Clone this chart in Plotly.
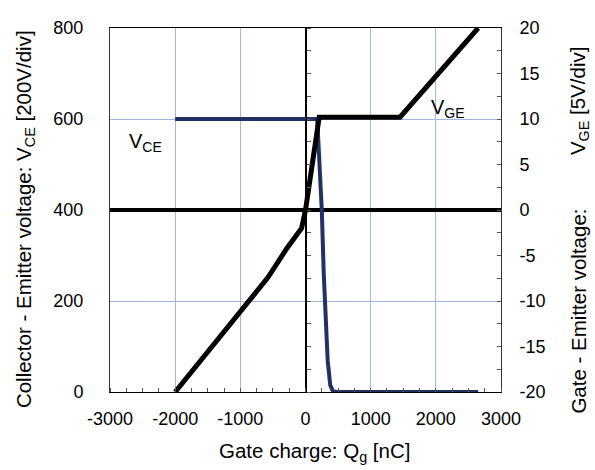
import plotly.graph_objects as go

# Data
vce_q = [-2000, 0, 180, 215, 250, 280, 300, 340, 380, 420, 480, 2650]
vce_v = [600, 600, 600, 500, 400, 260, 180, 70, 15, 2, 0, 0]

vge_q = [-2000, -1000, -575, -285, -150, -60, 0, 70, 150, 210, 1450, 2650]
vge_v = [-20, -11.2, -7.4, -4.2, -3.0, -2.0, 0, 3.3, 7.3, 10.2, 10.2, 20]

x_ticks = [-3000, -2000, -1000, 0, 1000, 2000, 3000]
x_labels = ["-3000", "-2000", "-1000", "0", "1000", "2000", "3000"]
y1_ticks = [0, 200, 400, 600, 800]
y2_ticks = [-20, -15, -10, -5, 0, 5, 10, 15, 20]
y2_labels = ["-20", "-15", "-10", "-5", "0", "5", "10", "15", "20"]

FONT = "Liberation Sans, Arial, sans-serif"
GRID = "#a3b6de"
NAVY = "#1f3263"
TICK = 18
TITLE = 20.5

fig = go.Figure()
fig.add_trace(go.Scatter(x=vce_q, y=vce_v, mode="lines",
                         line=dict(color=NAVY, width=4), yaxis="y", showlegend=False))
fig.add_trace(go.Scatter(x=vge_q, y=vge_v, mode="lines",
                         line=dict(color="black", width=5), yaxis="y2", showlegend=False))
# invisible trace to activate y3 (tick line at Q=0)
fig.add_trace(go.Scatter(x=[0], y=[0], mode="markers", marker=dict(opacity=0),
                         yaxis="y3", showlegend=False, hoverinfo="skip"))

fig.update_layout(
    width=595, height=470,
    margin=dict(l=110, r=94, t=28, b=78),
    paper_bgcolor="white", plot_bgcolor="white",
    font=dict(family=FONT, size=TICK, color="black"),
    xaxis=dict(range=[-3000, 3000], tickvals=x_ticks, ticktext=x_labels, showgrid=True,
               gridcolor=GRID, gridwidth=1, zeroline=True, zerolinecolor="black",
               zerolinewidth=1, showline=True, linecolor="black", linewidth=1, mirror=True,
               ticks="", ticklabelstandoff=10, tickfont=dict(size=TICK), automargin=False,
               minor=dict(dtick=250, ticks="inside", ticklen=4, tickcolor="#555", showgrid=False)),
    yaxis=dict(range=[0, 800], tickvals=y1_ticks, showgrid=True, gridcolor=GRID,
               zeroline=False, showline=True, linecolor="#333", linewidth=1,
               ticks="", ticklabelstandoff=22, tickfont=dict(size=TICK), automargin=False),
    yaxis2=dict(range=[-20, 20], tickvals=y2_ticks, ticktext=y2_labels, overlaying="y",
                side="right", anchor="x", showgrid=False, zeroline=True,
                zerolinecolor="black", zerolinewidth=4, showline=True, linecolor="#333",
                linewidth=1, ticks="inside", ticklen=4, tickcolor="#555",
                ticklabelstandoff=14, tickfont=dict(size=TICK), automargin=False,
                minor=dict(dtick=2.5, ticks="inside", ticklen=4, tickcolor="#555")),
    yaxis3=dict(range=[-20, 20], overlaying="y", side="right", anchor="free",
                position=0.5, showgrid=False, zeroline=False, showline=True,
                linecolor="black", linewidth=1, ticks="outside", ticklen=4,
                tickcolor="#555", dtick=2.5, showticklabels=False, automargin=False),
)

fig.add_annotation(text="V<sub>CE</sub>", x=-2740, y=548, xref="x", yref="y",
                   xanchor="left", yanchor="middle", showarrow=False, font=dict(size=20))
fig.add_annotation(text="V<sub>GE</sub>", x=1890, y=11.2, xref="x", yref="y2",
                   xanchor="left", yanchor="middle", showarrow=False, font=dict(size=20))
# axis titles
fig.add_annotation(text="Gate charge: Q<sub>g</sub> [nC]", x=0.5, xshift=9, y=0, yshift=-60,
                   xref="paper", yref="paper", xanchor="center", yanchor="middle",
                   showarrow=False, font=dict(size=TITLE))
fig.add_annotation(text="Collector - Emitter voltage: V<sub>CE</sub> [200V/div]",
                   x=0, xshift=-85, y=0.475, xref="paper", yref="paper",
                   xanchor="center", yanchor="middle", textangle=-90, showarrow=False,
                   font=dict(size=TITLE))
fig.add_annotation(text="V<sub>GE</sub> [5V/div]", x=1.0, xshift=78, y=0.953,
                   xref="paper", yref="paper", xanchor="center", yanchor="top",
                   textangle=-90, showarrow=False, font=dict(size=TITLE))
fig.add_annotation(text="Gate - Emitter voltage:", x=1.0, xshift=78, y=0.508,
                   xref="paper", yref="paper", xanchor="center", yanchor="top",
                   textangle=-90, showarrow=False, font=dict(size=TITLE))

fig.write_html("out.html")
